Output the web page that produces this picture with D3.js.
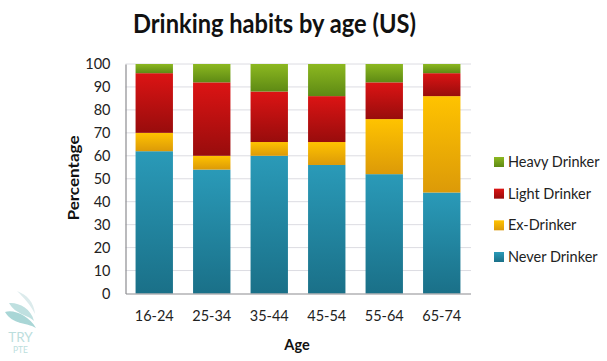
<!DOCTYPE html>
<html>
<head>
<meta charset="utf-8">
<script src="https://cdn.jsdelivr.net/npm/d3@7"></script>
<style>
html, body { margin: 0; padding: 0; background: #fff; }
text { font-family: Lato, "Open Sans", sans-serif; fill: #222; }
</style>
</head>
<body>
<div id="chart-area"></div>
<script>
var ages = ["16-24", "25-34", "35-44", "45-54", "55-64", "65-74"];
var seriesNames = ["Never Drinker", "Ex-Drinker", "Light Drinker", "Heavy Drinker"];
var neverDrinker = [62, 54, 60, 56, 52, 44];
var exDrinker = [8, 6, 6, 10, 24, 42];
var lightDrinker = [26, 32, 22, 20, 16, 10];
var heavyDrinker = [4, 8, 12, 14, 8, 4];
var yTicks = [0, 10, 20, 30, 40, 50, 60, 70, 80, 90, 100];

// top and bottom colour of each series gradient
var gradTop = ["#2a9ab8", "#ffc300", "#dc1414", "#8cb820"];
var gradBottom = ["#1a7088", "#dc9a08", "#980c0c", "#5e8a14"];

var svg = d3.select("#chart-area").append("svg")
	.attr("width", 607)
	.attr("height", 361)
	.style("display", "block");

var x = d3.scaleBand()
	.domain(ages)
	.range([125.5, 470.5])
	.paddingInner(0.35)
	.paddingOuter(0.175);

var y = d3.scaleLinear()
	.domain([0, 100])
	.range([293.5, 64]);

var defs = svg.append("defs");
seriesNames.forEach((name, i)=>{
	var g = defs.append("linearGradient")
		.attr("id", "grad" + i)
		.attr("x1", 0).attr("y1", 0)
		.attr("x2", 0).attr("y2", 1);
	g.append("stop").attr("offset", "0%").attr("stop-color", gradTop[i]);
	g.append("stop").attr("offset", "100%").attr("stop-color", gradBottom[i]);
});

// title, squeezed a bit because Lato runs wider than the original face
svg.append("text")
	.attr("x", 133)
	.attr("y", 33)
	.attr("textLength", 283)
	.attr("lengthAdjust", "spacingAndGlyphs")
	.style("font-size", "26px")
	.style("font-weight", "700")
	.style("fill", "#111")
	.text("Drinking habits by age (US)");

// gridlines
svg.selectAll(".grid").data(yTicks.slice(1)).enter()
	.append("line")
		.attr("class", "grid")
		.attr("x1", 125.5)
		.attr("x2", 471)
		.attr("y1", (d)=>{ return y(d); })
		.attr("y2", (d)=>{ return y(d); })
		.attr("stroke", "#dcdce2")
		.attr("stroke-width", 1);

// stacked bars
var rows = ages.map((a, i)=>{
	return {
		age: a,
		"Never Drinker": neverDrinker[i],
		"Ex-Drinker": exDrinker[i],
		"Light Drinker": lightDrinker[i],
		"Heavy Drinker": heavyDrinker[i]
	};
});
var stacked = d3.stack().keys(seriesNames)(rows);

var groups = svg.selectAll(".series").data(stacked).enter()
	.append("g")
		.attr("class", "series")
		.attr("fill", (d, i)=>{ return "url(#grad" + i + ")"; });

groups.selectAll("rect").data((d)=>{ return d; }).enter()
	.append("rect")
		.attr("x", (d)=>{ return x(d.data.age); })
		.attr("y", (d)=>{ return y(d[1]); })
		.attr("width", x.bandwidth())
		.attr("height", (d)=>{ return y(d[0]) - y(d[1]); });

// axes
var yAxis = d3.axisLeft(y).tickValues(yTicks).tickSize(0).tickPadding(15);
var gy = svg.append("g").attr("transform", "translate(125.5,0)").call(yAxis);
gy.select(".domain").attr("stroke", "#8c8c90").attr("stroke-width", 1.2);
gy.selectAll("text").style("font-size", "14.5px");

var xAxis = d3.axisBottom(x).tickSize(0).tickPadding(17);
var gx = svg.append("g").attr("transform", "translate(0,293.5)").call(xAxis);
gx.select(".domain").attr("stroke", "#8c8c90").attr("stroke-width", 1.2);
gx.selectAll("text").style("font-size", "14.5px");

// axis titles
svg.append("text")
	.attr("transform", "translate(79,178) rotate(-90)")
	.attr("text-anchor", "middle")
	.attr("textLength", 85)
	.attr("lengthAdjust", "spacingAndGlyphs")
	.style("font-size", "15.5px")
	.style("font-weight", "700")
	.style("fill", "#111")
	.text("Percentage");

svg.append("text")
	.attr("x", 297)
	.attr("y", 350)
	.attr("text-anchor", "middle")
	.style("font-size", "14.5px")
	.style("font-weight", "700")
	.style("fill", "#111")
	.text("Age");

// legend, heavy on top
var legendNames = seriesNames.slice().reverse();
var legend = d3.scalePoint()
	.domain(legendNames)
	.range([162, 257]);

var items = svg.selectAll(".legend").data(legendNames).enter()
	.append("g")
		.attr("class", "legend")
		.attr("transform", (d)=>{ return "translate(494," + legend(d) + ")"; });

items.append("rect")
	.attr("y", -5)
	.attr("width", 10)
	.attr("height", 10)
	.attr("fill", (d)=>{ return "url(#grad" + seriesNames.indexOf(d) + ")"; });

items.append("text")
	.attr("x", 14)
	.attr("dy", "0.35em")
	.style("font-size", "14.5px")
	.text((d)=>{ return d; });

// watermark
var mark = svg.append("g");
mark.append("path").attr("d", "M17 291 C27 295 34 302 35 314 C30 304 24 298 17 291 Z").attr("fill", "#dcebec");
mark.append("path").attr("d", "M9 303 C18 302 31 308 34 321 C27 314 16 315 9 303 Z").attr("fill", "#bfe0e0");
mark.append("path").attr("d", "M5 312 C14 309 29 316 36 328 C26 322 13 325 5 312 Z").attr("fill", "#a9d6d6");
svg.append("text").attr("x", 20.5).attr("y", 342).attr("text-anchor", "middle")
	.style("font-size", "13.5px").style("fill", "#bcdedd").text("TRY");
svg.append("text").attr("x", 20.5).attr("y", 353).attr("text-anchor", "middle")
	.style("font-size", "8.5px").style("fill", "#bcdedd").text("PTE");
</script>
</body>
</html>
